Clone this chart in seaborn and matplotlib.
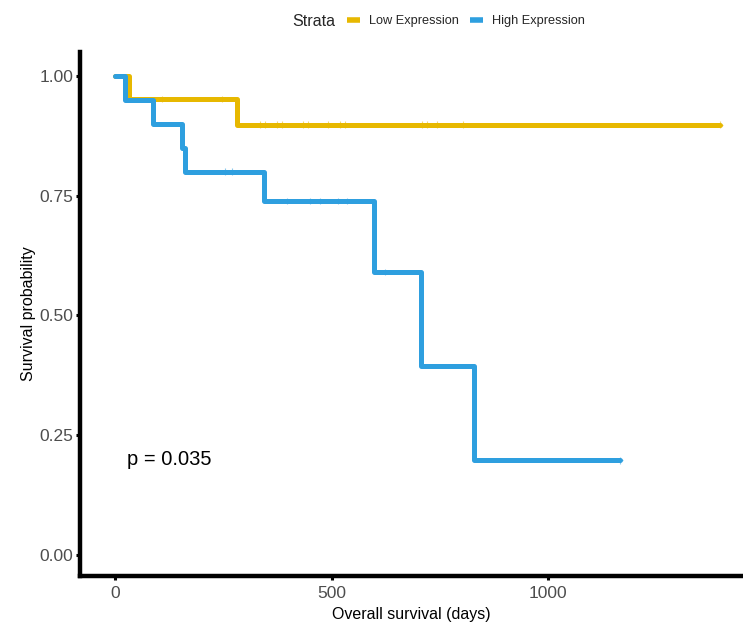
import matplotlib
matplotlib.use("Agg")
import matplotlib.pyplot as plt
import seaborn as sns
import pandas as pd
from matplotlib.lines import Line2D

# ---- data ----
low_time = [0, 32, 282, 1397]
low_surv = [1.0, 0.952, 0.898, 0.898]
low_cens_time = [108, 247, 335, 346, 374, 386, 434, 446, 492, 520, 531, 709, 720, 744, 804, 1397]
low_cens_surv = [0.952, 0.952] + [0.898] * 14

high_time = [0, 23, 88, 155, 162, 344, 598, 707, 829, 1166]
high_surv = [1.0, 0.95, 0.90, 0.85, 0.80, 0.739, 0.591, 0.394, 0.197, 0.197]
high_cens_time = [254, 270, 397, 450, 473, 515, 536, 624, 1166]
high_cens_surv = [0.80, 0.80, 0.739, 0.739, 0.739, 0.739, 0.739, 0.591, 0.197]

strata = ["Low Expression", "High Expression"]
colors = ["#E7B800", "#2E9FDF"]
x_ticks = [0, 500, 1000]
y_ticks = [0.00, 0.25, 0.50, 0.75, 1.00]
p_text = "p = 0.035"

curves = pd.concat([
    pd.DataFrame({"time": low_time, "surv": low_surv, "strata": strata[0]}),
    pd.DataFrame({"time": high_time, "surv": high_surv, "strata": strata[1]}),
], ignore_index=True)
cens = pd.concat([
    pd.DataFrame({"time": low_cens_time, "surv": low_cens_surv, "strata": strata[0]}),
    pd.DataFrame({"time": high_cens_time, "surv": high_cens_surv, "strata": strata[1]}),
], ignore_index=True)

sns.set_theme(style="white")
plt.rcParams["font.family"] = ["Liberation Sans", "DejaVu Sans"]

fig = plt.figure(figsize=(7.43, 6.26), dpi=100)
ax = fig.add_axes([0.1077, 0.080, 0.8923, 0.837])

palette = dict(zip(strata, colors))
sns.lineplot(data=curves, x="time", y="surv", hue="strata", palette=palette,
             drawstyle="steps-post", linewidth=3.6, ax=ax, legend=False,
             estimator=None, sort=False)
sns.scatterplot(data=cens, x="time", y="surv", hue="strata", palette=palette,
                marker="+", s=22, linewidth=0.8, alpha=0.55, ax=ax, legend=False, zorder=3)

ax.set_xlim(-81, 1450)
ax.set_ylim(-0.044, 1.05)
ax.set_xticks(x_ticks)
ax.set_yticks(y_ticks)
ax.set_yticklabels([f"{v:.2f}" for v in y_ticks])
ax.set_xlabel("Overall survival (days)", fontsize=11.5, color="black", labelpad=4)
ax.set_ylabel("Survival probability", fontsize=11.5, color="black", labelpad=2)

for s in ["top", "right"]:
    ax.spines[s].set_visible(False)
for s in ["left", "bottom"]:
    ax.spines[s].set_linewidth(3.2)
    ax.spines[s].set_color("black")
ax.tick_params(axis="both", which="major", length=3, width=2.2, color="black",
               labelsize=12.5, labelcolor="#4D4D4D", left=True, bottom=True)
ax.tick_params(axis="x", pad=4.5)
ax.tick_params(axis="y", pad=2)
ax.grid(False)

ax.text(27, 0.20, p_text, fontsize=14.5, color="black", va="center", ha="left")

# legend on top
handles = [Line2D([0], [0], color=c, lw=4, solid_capstyle="butt") for c in colors]
fig.text(0.394, 0.966, "Strata", fontsize=11.6, ha="left", va="center")
fig.legend(handles, strata, loc="center left", bbox_to_anchor=(0.467, 0.966),
           ncol=2, frameon=False, fontsize=9.2, handlelength=1.0, handletextpad=0.7,
           columnspacing=0.9, borderpad=0, borderaxespad=0)

fig.savefig("out.png", dpi=100)
